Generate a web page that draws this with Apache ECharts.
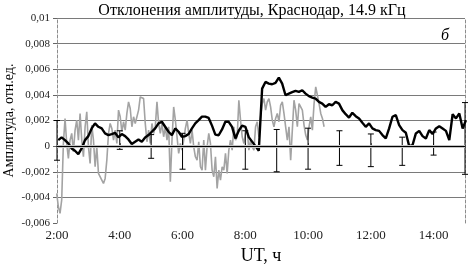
<!DOCTYPE html>
<html>
<head>
<meta charset="utf-8">
<script src="https://cdn.jsdelivr.net/npm/echarts@6/dist/echarts.min.js"></script>
<style>
  html, body { margin: 0; padding: 0; background: #fff; }
  #chart { width: 472px; height: 266px; }
</style>
</head>
<body>
<div id="chart"></div>
<script>
// время в часах UT, значения в единицах 0,001
const grayStart = 1.99;
const grayStep = 0.05325;
const grayValues = [
  -3.69, -4.73, -5.25, -4.2, 0.2, 2.16, 0.21, -0.96, 0.47, 0.99, -0.44, 1.25, 2.03, 0.47, 2.55, 0.47,
  -0.83, 1.51, 2.68, -0.05, -1.35, 1.64, 0.47, -1.61, -0.05, -2.13, -2.26, -2.65, -2.91, -2.52, -1.09,
  0.99, 1.77, 1.38, 0.47, 1.25, 0.21, 2.81, 2.29, 1.12, 1.9, 1.25, 2.55, 3.45, 2.94, 1.51, 2.29, 1.77,
  1.9, 2.81, 3.84, 3.84, 3.71, 1.77, 0.34, 1.25, 0.21, 1.77, 0.99, 1.51, 3.45, 1.77,
  0.99, 1.77, 0.73, 1.51, 0.47, 1.51, -2.78, 0.47, 3.06, 2.03, 0.73, -0.57, 0.21, -0.31, 0.47, 1.38,
  2.03, 0.99, 0.21, 1.25, -0.05, -0.83, -1.09, 0.34, -1.61, -1.87, 0.47, -1.87, -0.05, 0.99, 0.21,
  -1.87, -2.39, -0.83, -3.3, -1.87, -2.65, -1.61, -1.87, -0.57, -2.13, -0.31, 0.47, -0.31, 1.51, 0.47,
  0.73, 3.58, 2.03, 0.73, 0.21, 0.99, 1.25, -0.31, 0.47, -0.05, -0.31, 1.51, 1.9, 0.73, 2.29, 3.32, 3.71,
  2.81, 3.45, 3.71, 3.06, 2.03, 1.51, 2.16, 2.55, 1.9, 3.19, 3.45, 2.55, 1.51, 0.47, 1.51, -1.09,
  1.25, 3.58, 2.81, 1.51, 3.32, 3.45, 2.81, 1.64, 0.86, 0.47, 1.51, 2.29, 1.25, 3.32, 4.62, 4.75,
  3.32, 2.55, 2.16, 1.51
];

const blackStart = 2.04;
const blackStep = 0.10649;
const blackValues = [
  0.47, 0.68, 0.47, 0.21, -0.18, -0.36, -0.62, -0.18, 0.47, 0.78, 1.38, 1.77, 1.51, 1.38, 0.99, 0.86,
  0.94, 1.04, 0.68, 0.94, 0.78, 0.52, 0.16, 0.34, 0.52, 0.34, 0.68, 0.86, 1.12, 1.38, 1.77,
  1.9, 1.51, 1.12, 0.86, 1.38, 1.12, 0.73, 0.78, 0.94, 1.38, 1.77, 2.03, 2.3, 2.3, 2.2, 1.6,
  0.9, 0.85, 1.3, 1.9, 1.9, 1.5, 0.6, 1.2, 1.6, 1.5, 0.7, 0.35, 0, -0.36, 4.49,
  5.01, 4.88, 4.83, 4.94, 5.35, 4.88, 3.97, 4.1, 4.21, 4.31, 4.23, 4.36, 4.1, 3.9, 3.79, 3.71,
  3.45, 3.32, 3.06, 3.27, 3.19, 3.45, 3.32, 2.81, 2.49, 2.23, 2.6, 2.34, 2.16, 1.82, 1.51, 1.77,
  1.38, 1.25, 1.19, 0.86, 0.6, 1.38, 2.29, 2.42, 1.64, 1.25, 1.04, 0, 0.08, 0.99, 1.19, 0.78,
  0.6, 1.25, 0.94, 1.38, 1.56, 1.38, 1.19, 0.47, 2.49, 2.16, 2.55, 1.38, 2.03
];

// разброс (планки погрешностей)
const errHours = [2, 4, 5, 6, 8, 9, 10, 11, 12, 13, 14, 15];
const errLow = [-1.1, -0.25, -0.95, -1.8, -1.8, -2.0, -1.8, -1.5, -1.6, -1.5, -0.7, -2.2];
const errHigh = [2.0, 1.2, 0.9, 1.0, 1.2, 1.3, 1.4, 1.2, 0.95, 0.7, 1.1, 3.4];

const serif = "'Liberation Serif', 'DejaVu Serif', serif";

const grayData = grayValues.map((v, i) => [grayStart + i * grayStep, v / 1000]);
const blackData = blackValues.map((v, i) => [blackStart + i * blackStep, v / 1000]);
const errData = errHours.map((h, i) => [h, errLow[i] / 1000, errHigh[i] / 1000]);

function fmtY(v) {
  return String(+v.toFixed(3)).replace(".", ",");
}

const gridGray = "#7a7a7a";

const chart = echarts.init(document.getElementById("chart"));
chart.setOption({
  animation: false,
  title: {
    text: "Отклонения амплитуды, Краснодар, 14.9 кГц",
    left: 247,
    textAlign: "center",
    top: -2,
    textStyle: { fontFamily: serif, fontSize: 16, fontWeight: "normal", color: "#000" },
  },
  graphic: [
    {
      type: "text",
      left: 441,
      top: 28,
      style: { text: "б", font: "italic 16px " + serif, fill: "#000" },
    },
  ],
  grid: { left: 57, right: 7, top: 18, bottom: 43, containLabel: false, outerBoundsMode: "none" },
  xAxis: {
    type: "value",
    min: 2,
    max: 15,
    interval: 2,
    name: "UT, ч",
    nameLocation: "middle",
    nameGap: 24,
    nameMoveOverlap: false,
    nameTextStyle: { fontFamily: serif, fontSize: 18, color: "#000" },
    axisLine: { show: true, lineStyle: { color: "#8c8c8c", type: [3, 2] } },
    axisTick: { show: true, inside: true, length: 3, lineStyle: { color: "#666" } },
    axisLabel: {
      fontFamily: serif,
      fontSize: 13,
      color: "#222",
      margin: 6,
      showMaxLabel: false,
      formatter: (v) => v + ":00",
    },
    splitLine: { show: false },
  },
  yAxis: [
    {
      type: "value",
      min: -0.006,
      max: 0.01,
      interval: 0.002,
      name: "Амплитуда, отн.ед.",
      nameLocation: "middle",
      nameGap: 41,
      nameMoveOverlap: false,
      nameTextStyle: { fontFamily: serif, fontSize: 14, color: "#000" },
      axisLine: { show: true, lineStyle: { color: "#8c8c8c", type: [3, 2] } },
      axisTick: { show: true, length: 4, lineStyle: { color: "#666" } },
      axisLabel: { fontFamily: serif, fontSize: 11, color: "#222", margin: 7, formatter: fmtY },
      splitLine: {
        show: true,
        lineStyle: {
          color: ["transparent", gridGray, gridGray, gridGray, gridGray, gridGray, gridGray, gridGray, gridGray],
          width: 1,
        },
      },
    },
    {
      type: "value",
      position: "right",
      min: -0.006,
      max: 0.01,
      axisLine: { show: true, lineStyle: { color: "#8c8c8c", type: [3, 2] } },
      axisTick: { show: false },
      axisLabel: { show: false },
      splitLine: { show: false },
    },
  ],
  series: [
    {
      type: "line",
      data: [],
      z: 1,
      silent: true,
      markLine: {
        symbol: "none",
        silent: true,
        label: { show: false },
        data: [
          { yAxis: 0.01, lineStyle: { color: gridGray, width: 1, type: "solid" } },
          { yAxis: -0.002, lineStyle: { color: "#c4c4c4", width: 3, type: "solid" } },
          { yAxis: 0, lineStyle: { color: "#000", width: 1.2, type: "solid" } },
        ],
      },
    },
    {
      name: "gray",
      type: "line",
      data: grayData,
      showSymbol: false,
      z: 2,
      lineStyle: { color: "#a3a3a3", width: 1.6 },
    },
    {
      name: "err",
      type: "custom",
      z: 3,
      data: errData,
      renderItem: function (params, api) {
        const lo = api.coord([api.value(0), api.value(1)]);
        const hi = api.coord([api.value(0), api.value(2)]);
        const w = 3;
        const st = { stroke: "#000", lineWidth: 1 };
        return {
          type: "group",
          children: [
            { type: "line", shape: { x1: lo[0], y1: lo[1], x2: hi[0], y2: hi[1] }, style: st },
            { type: "line", shape: { x1: lo[0] - w, y1: lo[1], x2: lo[0] + w, y2: lo[1] }, style: st },
            { type: "line", shape: { x1: hi[0] - w, y1: hi[1], x2: hi[0] + w, y2: hi[1] }, style: st },
          ],
        };
      },
    },
    {
      name: "black",
      type: "line",
      data: blackData,
      showSymbol: false,
      z: 4,
      lineStyle: { color: "#000", width: 2.4 },
    },
  ],
});
</script>
</body>
</html>
